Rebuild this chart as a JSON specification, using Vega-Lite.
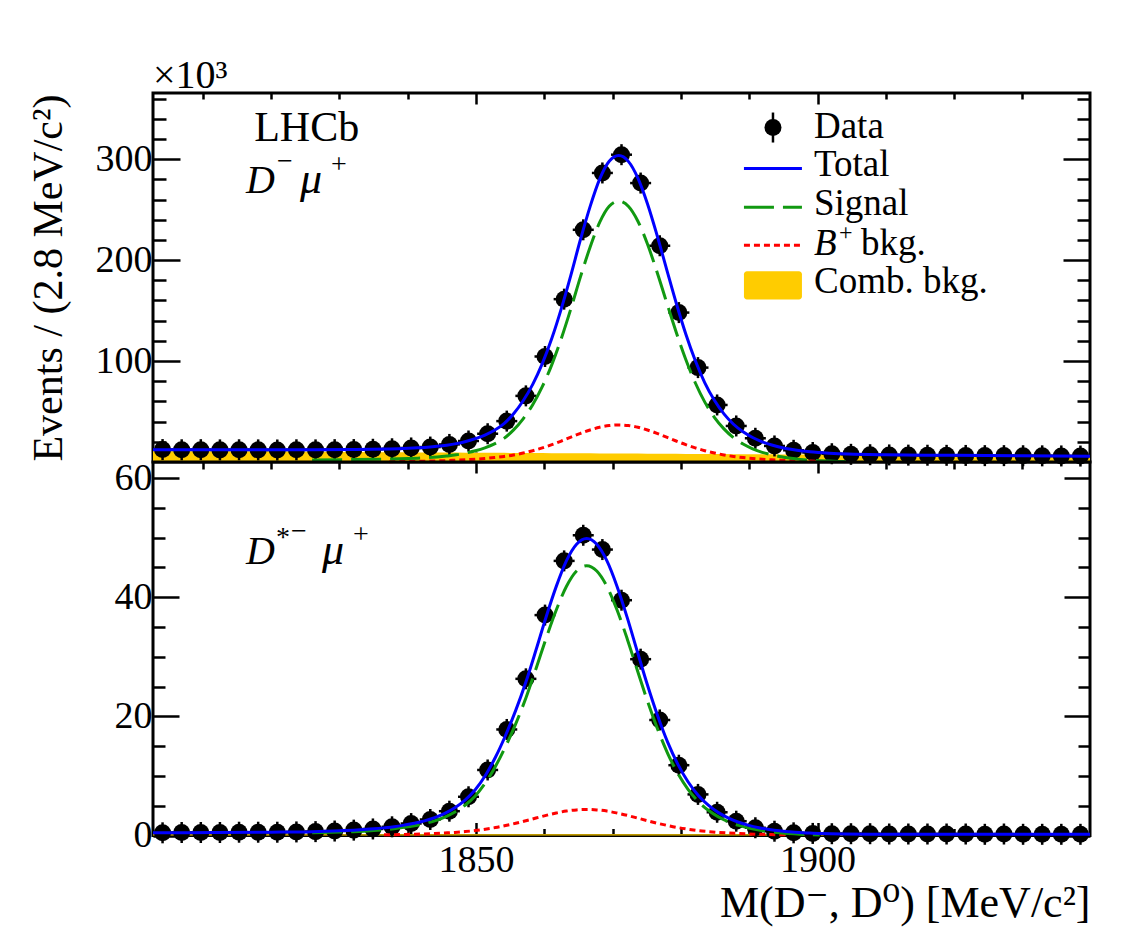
{
  "$schema": "https://vega.github.io/schema/vega-lite/v6.json",
  "background": "white",
  "padding": {"left": 25, "top": 54, "right": 45, "bottom": 10},
  "spacing": 0,
  "bounds": "flush",
  "config": {
    "font": "Liberation Serif, DejaVu Serif",
    "view": {"stroke": "black", "strokeWidth": 3},
    "axis": {
      "domain": false, "grid": false, "tickColor": "black", "tickWidth": 2.5,
      "labelFont": "Liberation Serif, DejaVu Serif", "labelFontSize": 38, "labelColor": "black",
      "titleFont": "Liberation Serif, DejaVu Serif", "titleFontWeight": "normal", "titleColor": "black",
      "labelOverlap": false, "labelFlush": false
    },
    "title": {"font": "Liberation Serif, DejaVu Serif", "fontWeight": "normal", "color": "black"}
  },
  "datasets": {
    "top_points": [
      {"m": 1804.1, "n": 12.3}, {"m": 1806.9, "n": 12.1}, {"m": 1809.7, "n": 12.2}, {"m": 1812.5, "n": 12.0},
      {"m": 1815.3, "n": 12.1}, {"m": 1818.1, "n": 12.0}, {"m": 1820.9, "n": 11.9}, {"m": 1823.7, "n": 12.1},
      {"m": 1826.5, "n": 12.0}, {"m": 1829.3, "n": 12.2}, {"m": 1832.1, "n": 12.3}, {"m": 1834.9, "n": 12.6},
      {"m": 1837.7, "n": 13.1}, {"m": 1840.5, "n": 13.9}, {"m": 1843.3, "n": 14.8}, {"m": 1846.1, "n": 17.4},
      {"m": 1848.9, "n": 20.8}, {"m": 1851.7, "n": 28.0}, {"m": 1854.5, "n": 40.5}, {"m": 1857.3, "n": 65.5},
      {"m": 1860.1, "n": 104.5}, {"m": 1862.9, "n": 161.3}, {"m": 1865.7, "n": 230.0}, {"m": 1868.5, "n": 286.3},
      {"m": 1871.3, "n": 304.4}, {"m": 1874.1, "n": 276.3}, {"m": 1876.9, "n": 214.2}, {"m": 1879.7, "n": 148.0},
      {"m": 1882.5, "n": 93.5}, {"m": 1885.3, "n": 56.5}, {"m": 1888.1, "n": 35.7}, {"m": 1890.9, "n": 23.5},
      {"m": 1893.7, "n": 15.9}, {"m": 1896.5, "n": 11.6}, {"m": 1899.3, "n": 9.4}, {"m": 1902.1, "n": 8.2},
      {"m": 1904.9, "n": 7.6}, {"m": 1907.7, "n": 7.2}, {"m": 1910.5, "n": 7.0}, {"m": 1913.3, "n": 6.8},
      {"m": 1916.1, "n": 6.7}, {"m": 1918.9, "n": 6.6}, {"m": 1921.7, "n": 6.5}, {"m": 1924.5, "n": 6.3},
      {"m": 1927.3, "n": 6.3}, {"m": 1930.1, "n": 6.2}, {"m": 1932.9, "n": 6.1}, {"m": 1935.7, "n": 6.0},
      {"m": 1938.5, "n": 5.9}
    ],
    "top_curves": [
      {"m": 1802.7, "tot": 12.2, "sig": null, "bkg": null, "comb": 11.0},
      {"m": 1810.0, "tot": 12.17, "sig": null, "bkg": null, "comb": 10.72},
      {"m": 1818.0, "tot": 12.12, "sig": null, "bkg": null, "comb": 10.42},
      {"m": 1826.0, "tot": 12.12, "sig": 2.0, "bkg": null, "comb": 10.12},
      {"m": 1832.0, "tot": 12.39, "sig": 2.4, "bkg": null, "comb": 9.89},
      {"m": 1837.3, "tot": 12.92, "sig": 2.9, "bkg": 0.33, "comb": 9.69},
      {"m": 1838.7, "tot": 13.17, "sig": 3.1, "bkg": 0.43, "comb": 9.64},
      {"m": 1840.1, "tot": 13.53, "sig": 3.4, "bkg": 0.55, "comb": 9.58},
      {"m": 1841.5, "tot": 14.04, "sig": 3.8, "bkg": 0.71, "comb": 9.53},
      {"m": 1842.9, "tot": 14.63, "sig": 4.25, "bkg": 0.9, "comb": 9.48},
      {"m": 1844.3, "tot": 15.5, "sig": 4.95, "bkg": 1.13, "comb": 9.42},
      {"m": 1845.7, "tot": 16.67, "sig": 5.9, "bkg": 1.4, "comb": 9.37},
      {"m": 1847.1, "tot": 18.22, "sig": 7.1, "bkg": 1.8, "comb": 9.32},
      {"m": 1848.5, "tot": 20.36, "sig": 8.9, "bkg": 2.2, "comb": 9.26},
      {"m": 1849.9, "tot": 23.11, "sig": 11.1, "bkg": 2.8, "comb": 9.21},
      {"m": 1851.3, "tot": 26.66, "sig": 14.0, "bkg": 3.5, "comb": 9.16},
      {"m": 1852.7, "tot": 31.4, "sig": 17.9, "bkg": 4.4, "comb": 9.1},
      {"m": 1854.1, "tot": 37.95, "sig": 23.4, "bkg": 5.5, "comb": 9.05},
      {"m": 1855.5, "tot": 47.8, "sig": 31.8, "bkg": 7.0, "comb": 9.0},
      {"m": 1856.9, "tot": 60.65, "sig": 42.8, "bkg": 8.9, "comb": 8.95},
      {"m": 1858.3, "tot": 76.9, "sig": 56.8, "bkg": 11.2, "comb": 8.9},
      {"m": 1859.7, "tot": 97.44, "sig": 74.6, "bkg": 14.0, "comb": 8.84},
      {"m": 1861.1, "tot": 122.49, "sig": 96.5, "bkg": 17.2, "comb": 8.79},
      {"m": 1862.5, "tot": 152.14, "sig": 122.6, "bkg": 20.8, "comb": 8.74},
      {"m": 1863.9, "tot": 185.38, "sig": 152.1, "bkg": 24.6, "comb": 8.68},
      {"m": 1865.3, "tot": 220.63, "sig": 183.6, "bkg": 28.4, "comb": 8.63},
      {"m": 1866.7, "tot": 252.98, "sig": 212.7, "bkg": 31.7, "comb": 8.58},
      {"m": 1868.1, "tot": 280.22, "sig": 237.3, "bkg": 34.4, "comb": 8.52},
      {"m": 1869.5, "tot": 297.87, "sig": 253.3, "bkg": 36.1, "comb": 8.47},
      {"m": 1870.9, "tot": 303.52, "sig": 258.4, "bkg": 36.7, "comb": 8.42},
      {"m": 1872.3, "tot": 297.76, "sig": 253.3, "bkg": 36.1, "comb": 8.36},
      {"m": 1873.7, "tot": 281.21, "sig": 238.5, "bkg": 34.4, "comb": 8.31},
      {"m": 1875.1, "tot": 255.86, "sig": 215.9, "bkg": 31.7, "comb": 8.26},
      {"m": 1876.5, "tot": 224.8, "sig": 188.2, "bkg": 28.4, "comb": 8.2},
      {"m": 1877.9, "tot": 191.05, "sig": 158.3, "bkg": 24.6, "comb": 8.15},
      {"m": 1879.3, "tot": 157.7, "sig": 128.8, "bkg": 20.8, "comb": 8.1},
      {"m": 1880.7, "tot": 127.04, "sig": 101.8, "bkg": 17.2, "comb": 8.04},
      {"m": 1882.1, "tot": 100.49, "sig": 78.5, "bkg": 14.0, "comb": 7.99},
      {"m": 1883.5, "tot": 78.44, "sig": 59.3, "bkg": 11.2, "comb": 7.94},
      {"m": 1884.9, "tot": 61.08, "sig": 44.3, "bkg": 8.9, "comb": 7.88},
      {"m": 1886.3, "tot": 47.63, "sig": 32.8, "bkg": 7.0, "comb": 7.83},
      {"m": 1887.7, "tot": 37.38, "sig": 24.1, "bkg": 5.5, "comb": 7.78},
      {"m": 1889.1, "tot": 29.92, "sig": 17.8, "bkg": 4.4, "comb": 7.72},
      {"m": 1890.5, "tot": 24.27, "sig": 13.1, "bkg": 3.5, "comb": 7.67},
      {"m": 1891.9, "tot": 20.02, "sig": 9.6, "bkg": 2.8, "comb": 7.62},
      {"m": 1893.3, "tot": 16.86, "sig": 7.1, "bkg": 2.2, "comb": 7.56},
      {"m": 1894.7, "tot": 14.41, "sig": 5.1, "bkg": 1.8, "comb": 7.51},
      {"m": 1896.1, "tot": 12.56, "sig": 3.7, "bkg": 1.4, "comb": 7.46},
      {"m": 1897.5, "tot": 11.14, "sig": 2.6, "bkg": 1.13, "comb": 7.41},
      {"m": 1898.9, "tot": 10.05, "sig": 1.8, "bkg": 0.9, "comb": 7.35},
      {"m": 1900.3, "tot": 9.31, "sig": 1.3, "bkg": 0.71, "comb": 7.3},
      {"m": 1901.7, "tot": 8.7, "sig": 0.9, "bkg": 0.55, "comb": 7.25},
      {"m": 1903.1, "tot": 8.22, "sig": 0.6, "bkg": 0.43, "comb": 7.19},
      {"m": 1904.5, "tot": 7.87, "sig": 0.4, "bkg": 0.33, "comb": 7.14},
      {"m": 1910.0, "tot": 7.13, "sig": null, "bkg": null, "comb": 6.93},
      {"m": 1920.0, "tot": 6.57, "sig": null, "bkg": null, "comb": 6.55},
      {"m": 1930.0, "tot": 6.17, "sig": null, "bkg": null, "comb": 6.17},
      {"m": 1939.9, "tot": 5.8, "sig": null, "bkg": null, "comb": 5.8}
    ],
    "bot_points": [
      {"m": 1804.1, "n": 0.45}, {"m": 1806.9, "n": 0.5}, {"m": 1809.7, "n": 0.5}, {"m": 1812.5, "n": 0.5},
      {"m": 1815.3, "n": 0.55}, {"m": 1818.1, "n": 0.55}, {"m": 1820.9, "n": 0.55}, {"m": 1823.7, "n": 0.6},
      {"m": 1826.5, "n": 0.65}, {"m": 1829.3, "n": 0.75}, {"m": 1832.1, "n": 0.9}, {"m": 1834.9, "n": 1.1},
      {"m": 1837.7, "n": 1.46}, {"m": 1840.5, "n": 2.0}, {"m": 1843.3, "n": 2.69}, {"m": 1846.1, "n": 4.08},
      {"m": 1848.9, "n": 6.5}, {"m": 1851.7, "n": 11.0}, {"m": 1854.5, "n": 17.8}, {"m": 1857.3, "n": 26.3},
      {"m": 1860.1, "n": 37.0}, {"m": 1862.9, "n": 46.1}, {"m": 1865.7, "n": 50.4}, {"m": 1868.5, "n": 48.0},
      {"m": 1871.3, "n": 39.5}, {"m": 1874.1, "n": 29.6}, {"m": 1876.9, "n": 19.4}, {"m": 1879.7, "n": 11.8},
      {"m": 1882.5, "n": 6.9}, {"m": 1885.3, "n": 3.9}, {"m": 1888.1, "n": 2.4}, {"m": 1890.9, "n": 1.3},
      {"m": 1893.7, "n": 0.72}, {"m": 1896.5, "n": 0.45}, {"m": 1899.3, "n": 0.35}, {"m": 1902.1, "n": 0.3},
      {"m": 1904.9, "n": 0.3}, {"m": 1907.7, "n": 0.3}, {"m": 1910.5, "n": 0.25}, {"m": 1913.3, "n": 0.25},
      {"m": 1916.1, "n": 0.25}, {"m": 1918.9, "n": 0.25}, {"m": 1921.7, "n": 0.25}, {"m": 1924.5, "n": 0.2},
      {"m": 1927.3, "n": 0.25}, {"m": 1930.1, "n": 0.2}, {"m": 1932.9, "n": 0.2}, {"m": 1935.7, "n": 0.2},
      {"m": 1938.5, "n": 0.2}
    ],
    "bot_curves": [
      {"m": 1802.7, "tot": 0.45, "sig": null, "bkg": null, "comb": 0.2},
      {"m": 1812.0, "tot": 0.5, "sig": null, "bkg": null, "comb": 0.2},
      {"m": 1820.0, "tot": 0.56, "sig": null, "bkg": null, "comb": 0.2},
      {"m": 1826.0, "tot": 0.65, "sig": 0.45, "bkg": null, "comb": 0.2},
      {"m": 1830.58, "tot": 0.83, "sig": 0.59, "bkg": null, "comb": 0.2},
      {"m": 1832.07, "tot": 0.9, "sig": 0.65, "bkg": null, "comb": 0.2},
      {"m": 1833.55, "tot": 1.0, "sig": 0.73, "bkg": null, "comb": 0.2},
      {"m": 1835.04, "tot": 1.12, "sig": 0.84, "bkg": null, "comb": 0.2},
      {"m": 1836.52, "tot": 1.28, "sig": 0.97, "bkg": 0.11, "comb": 0.2},
      {"m": 1838.0, "tot": 1.47, "sig": 1.14, "bkg": 0.13, "comb": 0.2},
      {"m": 1839.49, "tot": 1.74, "sig": 1.37, "bkg": 0.17, "comb": 0.2},
      {"m": 1840.97, "tot": 2.05, "sig": 1.64, "bkg": 0.21, "comb": 0.2},
      {"m": 1842.46, "tot": 2.45, "sig": 1.99, "bkg": 0.26, "comb": 0.2},
      {"m": 1843.94, "tot": 2.99, "sig": 2.46, "bkg": 0.33, "comb": 0.2},
      {"m": 1845.42, "tot": 3.71, "sig": 3.09, "bkg": 0.42, "comb": 0.2},
      {"m": 1846.91, "tot": 4.66, "sig": 3.94, "bkg": 0.52, "comb": 0.2},
      {"m": 1848.39, "tot": 5.94, "sig": 5.08, "bkg": 0.66, "comb": 0.2},
      {"m": 1849.88, "tot": 7.67, "sig": 6.64, "bkg": 0.83, "comb": 0.2},
      {"m": 1851.36, "tot": 10.07, "sig": 8.81, "bkg": 1.06, "comb": 0.2},
      {"m": 1852.84, "tot": 13.13, "sig": 11.6, "bkg": 1.33, "comb": 0.2},
      {"m": 1854.33, "tot": 16.83, "sig": 14.96, "bkg": 1.67, "comb": 0.2},
      {"m": 1855.81, "tot": 21.0, "sig": 18.75, "bkg": 2.05, "comb": 0.2},
      {"m": 1857.3, "tot": 25.76, "sig": 23.08, "bkg": 2.48, "comb": 0.2},
      {"m": 1858.78, "tot": 31.13, "sig": 28.0, "bkg": 2.93, "comb": 0.2},
      {"m": 1860.26, "tot": 36.68, "sig": 33.1, "bkg": 3.38, "comb": 0.2},
      {"m": 1861.75, "tot": 41.82, "sig": 37.85, "bkg": 3.77, "comb": 0.2},
      {"m": 1863.23, "tot": 46.1, "sig": 41.8, "bkg": 4.1, "comb": 0.2},
      {"m": 1864.72, "tot": 48.9, "sig": 44.4, "bkg": 4.3, "comb": 0.2},
      {"m": 1866.2, "tot": 49.87, "sig": 45.3, "bkg": 4.37, "comb": 0.2},
      {"m": 1867.68, "tot": 48.9, "sig": 44.4, "bkg": 4.3, "comb": 0.2},
      {"m": 1869.17, "tot": 46.1, "sig": 41.8, "bkg": 4.1, "comb": 0.2},
      {"m": 1870.65, "tot": 41.82, "sig": 37.85, "bkg": 3.77, "comb": 0.2},
      {"m": 1872.14, "tot": 36.58, "sig": 33.0, "bkg": 3.38, "comb": 0.2},
      {"m": 1873.62, "tot": 30.88, "sig": 27.75, "bkg": 2.93, "comb": 0.2},
      {"m": 1875.1, "tot": 25.26, "sig": 22.58, "bkg": 2.48, "comb": 0.2},
      {"m": 1876.59, "tot": 20.1, "sig": 17.85, "bkg": 2.05, "comb": 0.2},
      {"m": 1878.07, "tot": 15.63, "sig": 13.76, "bkg": 1.67, "comb": 0.2},
      {"m": 1879.56, "tot": 11.93, "sig": 10.4, "bkg": 1.33, "comb": 0.2},
      {"m": 1881.04, "tot": 9.02, "sig": 7.76, "bkg": 1.06, "comb": 0.2},
      {"m": 1882.52, "tot": 6.77, "sig": 5.74, "bkg": 0.83, "comb": 0.2},
      {"m": 1884.01, "tot": 5.09, "sig": 4.23, "bkg": 0.66, "comb": 0.2},
      {"m": 1885.49, "tot": 3.84, "sig": 3.12, "bkg": 0.52, "comb": 0.2},
      {"m": 1886.98, "tot": 2.92, "sig": 2.3, "bkg": 0.42, "comb": 0.2},
      {"m": 1888.46, "tot": 2.22, "sig": 1.69, "bkg": 0.33, "comb": 0.2},
      {"m": 1889.94, "tot": 1.7, "sig": 1.24, "bkg": 0.26, "comb": 0.2},
      {"m": 1891.43, "tot": 1.31, "sig": 0.9, "bkg": 0.21, "comb": 0.2},
      {"m": 1892.91, "tot": 1.02, "sig": 0.65, "bkg": 0.17, "comb": 0.2},
      {"m": 1894.4, "tot": 0.79, "sig": 0.46, "bkg": 0.13, "comb": 0.2},
      {"m": 1895.88, "tot": 0.63, "sig": 0.32, "bkg": 0.11, "comb": 0.2},
      {"m": 1897.36, "tot": 0.5, "sig": 0.22, "bkg": null, "comb": 0.2},
      {"m": 1898.85, "tot": 0.42, "sig": 0.15, "bkg": null, "comb": 0.2},
      {"m": 1900.33, "tot": 0.35, "sig": 0.1, "bkg": null, "comb": 0.2},
      {"m": 1901.82, "tot": 0.31, "sig": null, "bkg": null, "comb": 0.2},
      {"m": 1910.0, "tot": 0.22, "sig": null, "bkg": null, "comb": 0.2},
      {"m": 1920.0, "tot": 0.2, "sig": null, "bkg": null, "comb": 0.2},
      {"m": 1939.9, "tot": 0.2, "sig": null, "bkg": null, "comb": 0.2}
    ]
  },
  "vconcat": [
    {
      "width": 937,
      "height": 369,
      "title": {"text": "×10³", "anchor": "start", "fontSize": 40, "offset": -16, "frame": "group"},
      "resolve": {"axis": {"x": "independent", "y": "independent"}},
      "layer": [
        {
          "data": {"name": "top_curves"},
          "mark": {"type": "area", "color": "#ffcc00", "opacity": 1},
          "encoding": {
            "x": {"field": "m", "type": "quantitative", "scale": {"domain": [1802.7, 1939.9], "nice": false, "zero": false}, "axis": null},
            "y": {"field": "comb", "type": "quantitative", "scale": {"domain": [0, 365.5], "nice": false, "zero": false}, "axis": null}
          }
        },
        {
          "data": {"name": "top_points"},
          "mark": {"type": "tick", "orient": "horizontal", "size": 21, "thickness": 2.5, "color": "black", "opacity": 1},
          "encoding": {
            "x": {"field": "m", "type": "quantitative", "scale": {"domain": [1802.7, 1939.9], "nice": false, "zero": false}, "axis": null},
            "y": {"field": "n", "type": "quantitative", "scale": {"domain": [0, 365.5], "nice": false, "zero": false}, "axis": null}
          }
        },
        {
          "data": {"name": "top_points"},
          "mark": {"type": "tick", "orient": "vertical", "size": 21, "thickness": 2.5, "color": "black", "opacity": 1},
          "encoding": {
            "x": {"field": "m", "type": "quantitative", "scale": {"domain": [1802.7, 1939.9], "nice": false, "zero": false}, "axis": null},
            "y": {"field": "n", "type": "quantitative", "scale": {"domain": [0, 365.5], "nice": false, "zero": false}, "axis": null}
          }
        },
        {
          "data": {"name": "top_points"},
          "mark": {"type": "point", "filled": true, "size": 290, "color": "black", "opacity": 1, "strokeWidth": 0},
          "encoding": {
            "x": {
              "field": "m", "type": "quantitative",
              "scale": {"domain": [1802.7, 1939.9], "nice": false, "zero": false},
              "axis": {
                "orient": "bottom", "values": [1810, 1820, 1830, 1840, 1850, 1860, 1870, 1880, 1890, 1900, 1910, 1920, 1930],
                "labels": false, "title": null, "tickSize": -10,
                "tickDash": {"condition": {"test": "datum.value % 50 !== 0", "value": [6, 40]}, "value": [40, 0]}
              }
            },
            "y": {
              "field": "n", "type": "quantitative",
              "scale": {"domain": [0, 365.5], "nice": false, "zero": false},
              "axis": {
                "orient": "left", "values": [20, 40, 60, 80, 100, 120, 140, 160, 180, 200, 220, 240, 260, 280, 300, 320, 340, 360],
                "format": "d", "labelExpr": "datum.value % 100 === 0 ? datum.label : ''",
                "tickSize": -27, "labelPadding": 28,
                "tickDash": {"condition": {"test": "datum.value % 100 !== 0", "value": [13, 40]}, "value": [40, 0]},
                "title": "Events / (2.8 MeV/c²)", "titleFontSize": 42, "titlePadding": 25
              }
            }
          }
        },
        {
          "data": {"name": "top_curves"},
          "mark": {"type": "line", "color": "#ff0000", "strokeWidth": 3, "strokeDash": [6, 4], "interpolate": "monotone"},
          "encoding": {
            "x": {"field": "m", "type": "quantitative", "scale": {"domain": [1802.7, 1939.9], "nice": false, "zero": false}, "axis": null},
            "y": {"field": "bkg", "type": "quantitative", "scale": {"domain": [0, 365.5], "nice": false, "zero": false}, "axis": null}
          }
        },
        {
          "data": {"name": "top_curves"},
          "mark": {"type": "line", "color": "#119911", "strokeWidth": 3, "strokeDash": [30, 9], "interpolate": "monotone"},
          "encoding": {
            "x": {"field": "m", "type": "quantitative", "scale": {"domain": [1802.7, 1939.9], "nice": false, "zero": false}, "axis": null},
            "y": {"field": "sig", "type": "quantitative", "scale": {"domain": [0, 365.5], "nice": false, "zero": false}, "axis": null}
          }
        },
        {
          "data": {"name": "top_curves"},
          "mark": {"type": "line", "color": "#0000ff", "strokeWidth": 3, "interpolate": "monotone"},
          "encoding": {
            "x": {
              "field": "m", "type": "quantitative",
              "scale": {"domain": [1802.7, 1939.9], "nice": false, "zero": false},
              "axis": {
                "orient": "top", "values": [1810, 1820, 1830, 1840, 1850, 1860, 1870, 1880, 1890, 1900, 1910, 1920, 1930],
                "labels": false, "title": null, "tickSize": -11,
                "tickDash": {"condition": {"test": "datum.value % 50 !== 0", "value": [6, 40]}, "value": [40, 0]}
              }
            },
            "y": {
              "field": "tot", "type": "quantitative",
              "scale": {"domain": [0, 365.5], "nice": false, "zero": false},
              "axis": {
                "orient": "right", "values": [20, 40, 60, 80, 100, 120, 140, 160, 180, 200, 220, 240, 260, 280, 300, 320, 340, 360],
                "labels": false, "title": null, "tickSize": -27,
                "tickDash": {"condition": {"test": "datum.value % 100 !== 0", "value": [13, 40]}, "value": [40, 0]}
              }
            }
          }
        },
        {
          "data": {"values": [{}]},
          "mark": {"type": "text", "text": "LHCb", "fontSize": 42, "align": "center", "baseline": "alphabetic", "color": "black"},
          "encoding": {
            "x": {"datum": 1825.2, "type": "quantitative", "scale": {"domain": [1802.7, 1939.9], "nice": false, "zero": false}, "axis": null},
            "y": {"datum": 317.8, "type": "quantitative", "scale": {"domain": [0, 365.5], "nice": false, "zero": false}, "axis": null}
          }
        },
        {
          "data": {"values": [{}]},
          "mark": {"type": "text", "text": "D", "fontSize": 40, "fontStyle": "italic", "align": "left", "baseline": "alphabetic", "color": "black"},
          "encoding": {
            "x": {"datum": 1816.3, "type": "quantitative", "scale": {"domain": [1802.7, 1939.9], "nice": false, "zero": false}, "axis": null},
            "y": {"datum": 266.6, "type": "quantitative", "scale": {"domain": [0, 365.5], "nice": false, "zero": false}, "axis": null}
          }
        },
        {
          "data": {"values": [{}]},
          "mark": {"type": "text", "text": "−", "fontSize": 28, "align": "left", "baseline": "alphabetic", "dx": 31, "dy": -23, "color": "black"},
          "encoding": {
            "x": {"datum": 1816.3, "type": "quantitative", "scale": {"domain": [1802.7, 1939.9], "nice": false, "zero": false}, "axis": null},
            "y": {"datum": 266.6, "type": "quantitative", "scale": {"domain": [0, 365.5], "nice": false, "zero": false}, "axis": null}
          }
        },
        {
          "data": {"values": [{}]},
          "mark": {"type": "text", "text": "μ", "fontSize": 44, "fontStyle": "italic", "align": "left", "baseline": "alphabetic", "dx": 54, "color": "black"},
          "encoding": {
            "x": {"datum": 1816.3, "type": "quantitative", "scale": {"domain": [1802.7, 1939.9], "nice": false, "zero": false}, "axis": null},
            "y": {"datum": 266.6, "type": "quantitative", "scale": {"domain": [0, 365.5], "nice": false, "zero": false}, "axis": null}
          }
        },
        {
          "data": {"values": [{}]},
          "mark": {"type": "text", "text": "+", "fontSize": 28, "align": "left", "baseline": "alphabetic", "dx": 85, "dy": -20, "color": "black"},
          "encoding": {
            "x": {"datum": 1816.3, "type": "quantitative", "scale": {"domain": [1802.7, 1939.9], "nice": false, "zero": false}, "axis": null},
            "y": {"datum": 266.6, "type": "quantitative", "scale": {"domain": [0, 365.5], "nice": false, "zero": false}, "axis": null}
          }
        },
        {
          "data": {"values": [{}]},
          "mark": {"type": "point", "filled": true, "size": 290, "color": "black", "opacity": 1, "strokeWidth": 0},
          "encoding": {
            "x": {"datum": 1893.48, "type": "quantitative", "scale": {"domain": [1802.7, 1939.9], "nice": false, "zero": false}, "axis": null},
            "y": {"datum": 331.3, "type": "quantitative", "scale": {"domain": [0, 365.5], "nice": false, "zero": false}, "axis": null}
          }
        },
        {
          "data": {"values": [{}]},
          "mark": {"type": "tick", "orient": "vertical", "size": 30, "thickness": 2.5, "color": "black", "opacity": 1},
          "encoding": {
            "x": {"datum": 1893.48, "type": "quantitative", "scale": {"domain": [1802.7, 1939.9], "nice": false, "zero": false}, "axis": null},
            "y": {"datum": 331.3, "type": "quantitative", "scale": {"domain": [0, 365.5], "nice": false, "zero": false}, "axis": null}
          }
        },
        {
          "data": {"values": [{}]},
          "mark": {"type": "rule", "color": "#0000ff", "strokeWidth": 3},
          "encoding": {
            "x": {"datum": 1889.23, "type": "quantitative", "scale": {"domain": [1802.7, 1939.9], "nice": false, "zero": false}, "axis": null},
            "x2": {"datum": 1897.72},
            "y": {"datum": 290.7, "type": "quantitative", "scale": {"domain": [0, 365.5], "nice": false, "zero": false}, "axis": null}
          }
        },
        {
          "data": {"values": [{}]},
          "mark": {"type": "rule", "color": "#119911", "strokeWidth": 3, "strokeDash": [30, 9]},
          "encoding": {
            "x": {"datum": 1889.23, "type": "quantitative", "scale": {"domain": [1802.7, 1939.9], "nice": false, "zero": false}, "axis": null},
            "x2": {"datum": 1897.72},
            "y": {"datum": 252.4, "type": "quantitative", "scale": {"domain": [0, 365.5], "nice": false, "zero": false}, "axis": null}
          }
        },
        {
          "data": {"values": [{}]},
          "mark": {"type": "rule", "color": "#ff0000", "strokeWidth": 3, "strokeDash": [6, 4]},
          "encoding": {
            "x": {"datum": 1889.23, "type": "quantitative", "scale": {"domain": [1802.7, 1939.9], "nice": false, "zero": false}, "axis": null},
            "x2": {"datum": 1897.72},
            "y": {"datum": 214.7, "type": "quantitative", "scale": {"domain": [0, 365.5], "nice": false, "zero": false}, "axis": null}
          }
        },
        {
          "data": {"values": [{}]},
          "mark": {"type": "rect", "color": "#ffcc00", "opacity": 1, "cornerRadius": 3},
          "encoding": {
            "x": {"datum": 1889.23, "type": "quantitative", "scale": {"domain": [1802.7, 1939.9], "nice": false, "zero": false}, "axis": null},
            "x2": {"datum": 1897.72},
            "y": {"datum": 161.0, "type": "quantitative", "scale": {"domain": [0, 365.5], "nice": false, "zero": false}, "axis": null},
            "y2": {"datum": 189.0}
          }
        },
        {
          "data": {"values": [{}]},
          "mark": {"type": "text", "text": "Data", "fontSize": 37, "align": "left", "baseline": "alphabetic", "color": "black"},
          "encoding": {
            "x": {"datum": 1899.48, "type": "quantitative", "scale": {"domain": [1802.7, 1939.9], "nice": false, "zero": false}, "axis": null},
            "y": {"datum": 321.0, "type": "quantitative", "scale": {"domain": [0, 365.5], "nice": false, "zero": false}, "axis": null}
          }
        },
        {
          "data": {"values": [{}]},
          "mark": {"type": "text", "text": "Total", "fontSize": 37, "align": "left", "baseline": "alphabetic", "color": "black"},
          "encoding": {
            "x": {"datum": 1899.48, "type": "quantitative", "scale": {"domain": [1802.7, 1939.9], "nice": false, "zero": false}, "axis": null},
            "y": {"datum": 283.1, "type": "quantitative", "scale": {"domain": [0, 365.5], "nice": false, "zero": false}, "axis": null}
          }
        },
        {
          "data": {"values": [{}]},
          "mark": {"type": "text", "text": "Signal", "fontSize": 37, "align": "left", "baseline": "alphabetic", "color": "black"},
          "encoding": {
            "x": {"datum": 1899.48, "type": "quantitative", "scale": {"domain": [1802.7, 1939.9], "nice": false, "zero": false}, "axis": null},
            "y": {"datum": 245.1, "type": "quantitative", "scale": {"domain": [0, 365.5], "nice": false, "zero": false}, "axis": null}
          }
        },
        {
          "data": {"values": [{}]},
          "mark": {"type": "text", "text": "B", "fontSize": 37, "fontStyle": "italic", "align": "left", "baseline": "alphabetic", "color": "black"},
          "encoding": {
            "x": {"datum": 1899.48, "type": "quantitative", "scale": {"domain": [1802.7, 1939.9], "nice": false, "zero": false}, "axis": null},
            "y": {"datum": 205.5, "type": "quantitative", "scale": {"domain": [0, 365.5], "nice": false, "zero": false}, "axis": null}
          }
        },
        {
          "data": {"values": [{}]},
          "mark": {"type": "text", "text": "+", "fontSize": 24, "align": "left", "baseline": "alphabetic", "dx": 25, "dy": -15, "color": "black"},
          "encoding": {
            "x": {"datum": 1899.48, "type": "quantitative", "scale": {"domain": [1802.7, 1939.9], "nice": false, "zero": false}, "axis": null},
            "y": {"datum": 205.5, "type": "quantitative", "scale": {"domain": [0, 365.5], "nice": false, "zero": false}, "axis": null}
          }
        },
        {
          "data": {"values": [{}]},
          "mark": {"type": "text", "text": "bkg.", "fontSize": 37, "align": "left", "baseline": "alphabetic", "dx": 47, "color": "black"},
          "encoding": {
            "x": {"datum": 1899.48, "type": "quantitative", "scale": {"domain": [1802.7, 1939.9], "nice": false, "zero": false}, "axis": null},
            "y": {"datum": 205.5, "type": "quantitative", "scale": {"domain": [0, 365.5], "nice": false, "zero": false}, "axis": null}
          }
        },
        {
          "data": {"values": [{}]},
          "mark": {"type": "text", "text": "Comb. bkg.", "fontSize": 37, "align": "left", "baseline": "alphabetic", "color": "black"},
          "encoding": {
            "x": {"datum": 1899.48, "type": "quantitative", "scale": {"domain": [1802.7, 1939.9], "nice": false, "zero": false}, "axis": null},
            "y": {"datum": 167.6, "type": "quantitative", "scale": {"domain": [0, 365.5], "nice": false, "zero": false}, "axis": null}
          }
        }
      ]
    },
    {
      "width": 937,
      "height": 373.5,
      "resolve": {"axis": {"x": "independent", "y": "independent"}},
      "layer": [
        {
          "data": {"name": "bot_curves"},
          "mark": {"type": "area", "color": "#ffcc00", "opacity": 1},
          "encoding": {
            "x": {"field": "m", "type": "quantitative", "scale": {"domain": [1802.7, 1939.9], "nice": false, "zero": false}, "axis": null},
            "y": {"field": "comb", "type": "quantitative", "scale": {"domain": [0, 62.7], "nice": false, "zero": false}, "axis": null}
          }
        },
        {
          "data": {"name": "bot_points"},
          "mark": {"type": "tick", "orient": "horizontal", "size": 21, "thickness": 2.5, "color": "black", "opacity": 1},
          "encoding": {
            "x": {"field": "m", "type": "quantitative", "scale": {"domain": [1802.7, 1939.9], "nice": false, "zero": false}, "axis": null},
            "y": {"field": "n", "type": "quantitative", "scale": {"domain": [0, 62.7], "nice": false, "zero": false}, "axis": null}
          }
        },
        {
          "data": {"name": "bot_points"},
          "mark": {"type": "tick", "orient": "vertical", "size": 21, "thickness": 2.5, "color": "black", "opacity": 1},
          "encoding": {
            "x": {"field": "m", "type": "quantitative", "scale": {"domain": [1802.7, 1939.9], "nice": false, "zero": false}, "axis": null},
            "y": {"field": "n", "type": "quantitative", "scale": {"domain": [0, 62.7], "nice": false, "zero": false}, "axis": null}
          }
        },
        {
          "data": {"name": "bot_points"},
          "mark": {"type": "point", "filled": true, "size": 290, "color": "black", "opacity": 1, "strokeWidth": 0},
          "encoding": {
            "x": {
              "field": "m", "type": "quantitative",
              "scale": {"domain": [1802.7, 1939.9], "nice": false, "zero": false},
              "axis": {
                "orient": "bottom", "values": [1810, 1820, 1830, 1840, 1850, 1860, 1870, 1880, 1890, 1900, 1910, 1920, 1930],
                "format": "d", "labelExpr": "datum.value % 50 === 0 ? datum.label : ''",
                "tickSize": -13, "labelPadding": 19,
                "tickDash": {"condition": {"test": "datum.value % 50 !== 0", "value": [7, 40]}, "value": [40, 0]},
                "title": "M(D⁻, D⁰) [MeV/c²]", "titleFontSize": 44, "titleAnchor": "end", "titlePadding": 2
              }
            },
            "y": {
              "field": "n", "type": "quantitative",
              "scale": {"domain": [0, 62.7], "nice": false, "zero": false},
              "axis": {
                "orient": "left", "values": [0, 5, 10, 15, 20, 25, 30, 35, 40, 45, 50, 55, 60],
                "format": "d", "labelExpr": "datum.value % 20 === 0 ? datum.label : ''",
                "tickSize": -26, "labelPadding": 27,
                "tickDash": {"condition": {"test": "datum.value % 20 !== 0", "value": [12, 40]}, "value": [40, 0]},
                "title": null
              }
            }
          }
        },
        {
          "data": {"name": "bot_curves"},
          "mark": {"type": "line", "color": "#ff0000", "strokeWidth": 3, "strokeDash": [6, 4], "interpolate": "monotone"},
          "encoding": {
            "x": {"field": "m", "type": "quantitative", "scale": {"domain": [1802.7, 1939.9], "nice": false, "zero": false}, "axis": null},
            "y": {"field": "bkg", "type": "quantitative", "scale": {"domain": [0, 62.7], "nice": false, "zero": false}, "axis": null}
          }
        },
        {
          "data": {"name": "bot_curves"},
          "mark": {"type": "line", "color": "#119911", "strokeWidth": 3, "strokeDash": [30, 9], "interpolate": "monotone"},
          "encoding": {
            "x": {"field": "m", "type": "quantitative", "scale": {"domain": [1802.7, 1939.9], "nice": false, "zero": false}, "axis": null},
            "y": {"field": "sig", "type": "quantitative", "scale": {"domain": [0, 62.7], "nice": false, "zero": false}, "axis": null}
          }
        },
        {
          "data": {"name": "bot_curves"},
          "mark": {"type": "line", "color": "#0000ff", "strokeWidth": 3, "interpolate": "monotone"},
          "encoding": {
            "x": {
              "field": "m", "type": "quantitative",
              "scale": {"domain": [1802.7, 1939.9], "nice": false, "zero": false},
              "axis": {
                "orient": "top", "values": [1810, 1820, 1830, 1840, 1850, 1860, 1870, 1880, 1890, 1900, 1910, 1920, 1930],
                "labels": false, "title": null, "tickSize": -11,
                "tickDash": {"condition": {"test": "datum.value % 50 !== 0", "value": [7, 40]}, "value": [40, 0]}
              }
            },
            "y": {
              "field": "tot", "type": "quantitative",
              "scale": {"domain": [0, 62.7], "nice": false, "zero": false},
              "axis": {
                "orient": "right", "values": [0, 5, 10, 15, 20, 25, 30, 35, 40, 45, 50, 55, 60],
                "labels": false, "title": null, "tickSize": -26,
                "tickDash": {"condition": {"test": "datum.value % 20 !== 0", "value": [12, 40]}, "value": [40, 0]}
              }
            }
          }
        },
        {
          "data": {"values": [{}]},
          "mark": {"type": "text", "text": "D", "fontSize": 40, "fontStyle": "italic", "align": "left", "baseline": "alphabetic", "color": "black"},
          "encoding": {
            "x": {"datum": 1816.3, "type": "quantitative", "scale": {"domain": [1802.7, 1939.9], "nice": false, "zero": false}, "axis": null},
            "y": {"datum": 45.5, "type": "quantitative", "scale": {"domain": [0, 62.7], "nice": false, "zero": false}, "axis": null}
          }
        },
        {
          "data": {"values": [{}]},
          "mark": {"type": "text", "text": "*", "fontSize": 28, "align": "left", "baseline": "alphabetic", "dx": 30, "dy": -18, "color": "black"},
          "encoding": {
            "x": {"datum": 1816.3, "type": "quantitative", "scale": {"domain": [1802.7, 1939.9], "nice": false, "zero": false}, "axis": null},
            "y": {"datum": 45.5, "type": "quantitative", "scale": {"domain": [0, 62.7], "nice": false, "zero": false}, "axis": null}
          }
        },
        {
          "data": {"values": [{}]},
          "mark": {"type": "text", "text": "−", "fontSize": 28, "align": "left", "baseline": "alphabetic", "dx": 45, "dy": -24, "color": "black"},
          "encoding": {
            "x": {"datum": 1816.3, "type": "quantitative", "scale": {"domain": [1802.7, 1939.9], "nice": false, "zero": false}, "axis": null},
            "y": {"datum": 45.5, "type": "quantitative", "scale": {"domain": [0, 62.7], "nice": false, "zero": false}, "axis": null}
          }
        },
        {
          "data": {"values": [{}]},
          "mark": {"type": "text", "text": "μ", "fontSize": 44, "fontStyle": "italic", "align": "left", "baseline": "alphabetic", "dx": 76, "color": "black"},
          "encoding": {
            "x": {"datum": 1816.3, "type": "quantitative", "scale": {"domain": [1802.7, 1939.9], "nice": false, "zero": false}, "axis": null},
            "y": {"datum": 45.5, "type": "quantitative", "scale": {"domain": [0, 62.7], "nice": false, "zero": false}, "axis": null}
          }
        },
        {
          "data": {"values": [{}]},
          "mark": {"type": "text", "text": "+", "fontSize": 28, "align": "left", "baseline": "alphabetic", "dx": 107, "dy": -21, "color": "black"},
          "encoding": {
            "x": {"datum": 1816.3, "type": "quantitative", "scale": {"domain": [1802.7, 1939.9], "nice": false, "zero": false}, "axis": null},
            "y": {"datum": 45.5, "type": "quantitative", "scale": {"domain": [0, 62.7], "nice": false, "zero": false}, "axis": null}
          }
        }
      ]
    }
  ]
}
